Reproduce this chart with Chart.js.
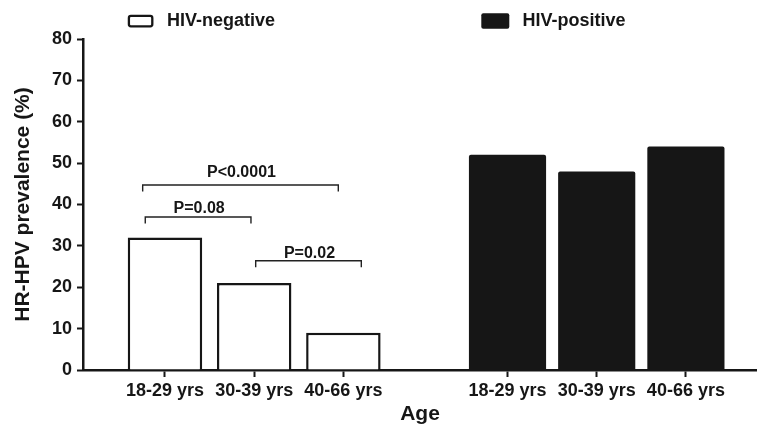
<!DOCTYPE html>
<html>
<head>
<meta charset="utf-8">
<script src="https://cdn.jsdelivr.net/npm/chart.js@4"></script>
<style>
  html, body { margin: 0; padding: 0; background: #ffffff; }
  #wrap { width: 757px; height: 427px; position: relative; }
</style>
</head>
<body>
<div id="wrap"><canvas id="c" width="757" height="427"></canvas></div>
<script>
// ---- data ----
const categories = ['18-29 yrs', '30-39 yrs', '40-66 yrs'];
const seriesNames = ['HIV-negative', 'HIV-positive'];
const hivNegative = [32, 21, 9];
const hivPositive = [52, 48, 54];
const yTickValues = [0, 10, 20, 30, 40, 50, 60, 70, 80];
const pLabels = ['P<0.0001', 'P=0.08', 'P=0.02'];

// ---- layout / annotation geometry (not data) ----
const groupShift = 3.84;            // x-offset of the HIV-positive group
const bracketSpans = [[-0.25, 1.943], [-0.221, 0.964], [1.017, 2.201]];
const bracketLevels = [44.71, 36.98, 26.42];
const labelLevels = [46.57, 37.87, 27.0];

const FONT = '"Liberation Sans", Arial, Helvetica, sans-serif';
const INK = '#161616';

const negPos = categories.map((c, i) => i);
const posPos = categories.map((c, i) => i + groupShift);
const tickPositions = negPos.concat(posPos);
const tickLabels = categories.concat(categories);

const legendPlugin = {
  id: 'customLegend',
  afterDraw(chart) {
    const ctx = chart.ctx;
    const ds = chart.data.datasets;
    const spec = [
      { box: [128.9, 15.9, 23.4, 10.4], fill: false, tx: 167 },
      { box: [481.3, 13.2, 28, 15.6], fill: true, tx: 522.5 }
    ];
    ctx.save();
    ctx.font = 'bold 18px ' + FONT;
    ctx.textBaseline = 'middle';
    ctx.textAlign = 'left';
    spec.forEach((s, i) => {
      const [x, y, w, h] = s.box;
      ctx.beginPath();
      if (ctx.roundRect) ctx.roundRect(x, y, w, h, 2); else ctx.rect(x, y, w, h);
      if (s.fill) { ctx.fillStyle = INK; ctx.fill(); }
      else { ctx.lineWidth = 2.3; ctx.strokeStyle = INK; ctx.stroke(); }
      ctx.fillStyle = INK;
      ctx.fillText(ds[i].label, s.tx, 21);
    });
    ctx.restore();
  }
};

const bracketPlugin = {
  id: 'brackets',
  afterDatasetsDraw(chart) {
    const ctx = chart.ctx;
    const xs = chart.scales.x, ys = chart.scales.y;
    ctx.save();
    ctx.strokeStyle = '#222';
    ctx.lineWidth = 1.4;
    ctx.fillStyle = INK;
    ctx.font = 'bold 16px ' + FONT;
    ctx.textAlign = 'center';
    ctx.textBaseline = 'alphabetic';
    pLabels.forEach((lab, i) => {
      const x1 = xs.getPixelForValue(bracketSpans[i][0]);
      const x2 = xs.getPixelForValue(bracketSpans[i][1]);
      const y = ys.getPixelForValue(bracketLevels[i]);
      ctx.beginPath();
      ctx.moveTo(x1, y + 6.5);
      ctx.lineTo(x1, y);
      ctx.lineTo(x2, y);
      ctx.lineTo(x2, y + 6.5);
      ctx.stroke();
      ctx.fillText(lab, (x1 + x2) / 2 + 1, ys.getPixelForValue(labelLevels[i]));
    });
    ctx.restore();
  }
};

new Chart(document.getElementById('c'), {
  type: 'bar',
  data: {
    datasets: [
      {
        label: seriesNames[0],
        data: hivNegative.map((v, i) => ({ x: negPos[i], y: v })),
        backgroundColor: '#ffffff',
        borderColor: INK,
        borderWidth: 2.5,
        borderSkipped: 'start',
        grouped: false,
        categoryPercentage: 1,
        barPercentage: 0.835
      },
      {
        label: seriesNames[1],
        data: hivPositive.map((v, i) => ({ x: posPos[i], y: v })),
        backgroundColor: INK,
        borderColor: INK,
        borderWidth: 0,
        borderRadius: 2,
        borderSkipped: 'start',
        grouped: false,
        categoryPercentage: 1,
        barPercentage: 0.865
      }
    ]
  },
  options: {
    responsive: false,
    animation: false,
    devicePixelRatio: 1,
    layout: { padding: { top: 39, left: 0, right: 0, bottom: 0 } },
    plugins: {
      legend: { display: false },
      tooltip: { enabled: false }
    },
    scales: {
      x: {
        type: 'linear',
        min: -0.919,
        max: 6.637,
        offset: false,
        afterBuildTicks(scale) { scale.ticks = tickPositions.map(v => ({ value: v })); },
        afterFit(scale) { scale.height = 57; },
        ticks: {
          autoSkip: false,
          maxRotation: 0,
          minRotation: 0,
          padding: 3,
          color: INK,
          font: { family: FONT, size: 18, weight: 'bold' },
          callback: (value, index) => tickLabels[index]
        },
        grid: {
          display: true,
          offset: false,
          drawOnChartArea: false,
          drawTicks: true,
          tickLength: 7,
          tickWidth: 2,
          tickColor: INK
        },
        border: { display: true, color: INK, width: 2.5 },
        title: {
          display: true,
          text: 'Age',
          color: INK,
          font: { family: FONT, size: 21, weight: 'bold', lineHeight: 1.2 },
          padding: { top: 0, bottom: 0 }
        }
      },
      y: {
        min: 0,
        max: 80,
        afterBuildTicks(scale) { scale.ticks = yTickValues.map(v => ({ value: v })); },
        afterFit(scale) { scale.width = 83; },
        ticks: {
          padding: 5,
          color: INK,
          font: { family: FONT, size: 18, weight: 'bold' }
        },
        grid: {
          display: true,
          offset: false,
          drawOnChartArea: false,
          drawTicks: true,
          tickLength: 6,
          tickWidth: 2,
          tickColor: INK
        },
        border: { display: true, color: INK, width: 2.5 },
        title: {
          display: true,
          text: 'HR-HPV prevalence (%)',
          color: INK,
          font: { family: FONT, size: 21, weight: 'bold', lineHeight: 1.2 },
          padding: { top: 11, bottom: 0 }
        }
      }
    }
  },
  plugins: [legendPlugin, bracketPlugin]
});
</script>
</body>
</html>
